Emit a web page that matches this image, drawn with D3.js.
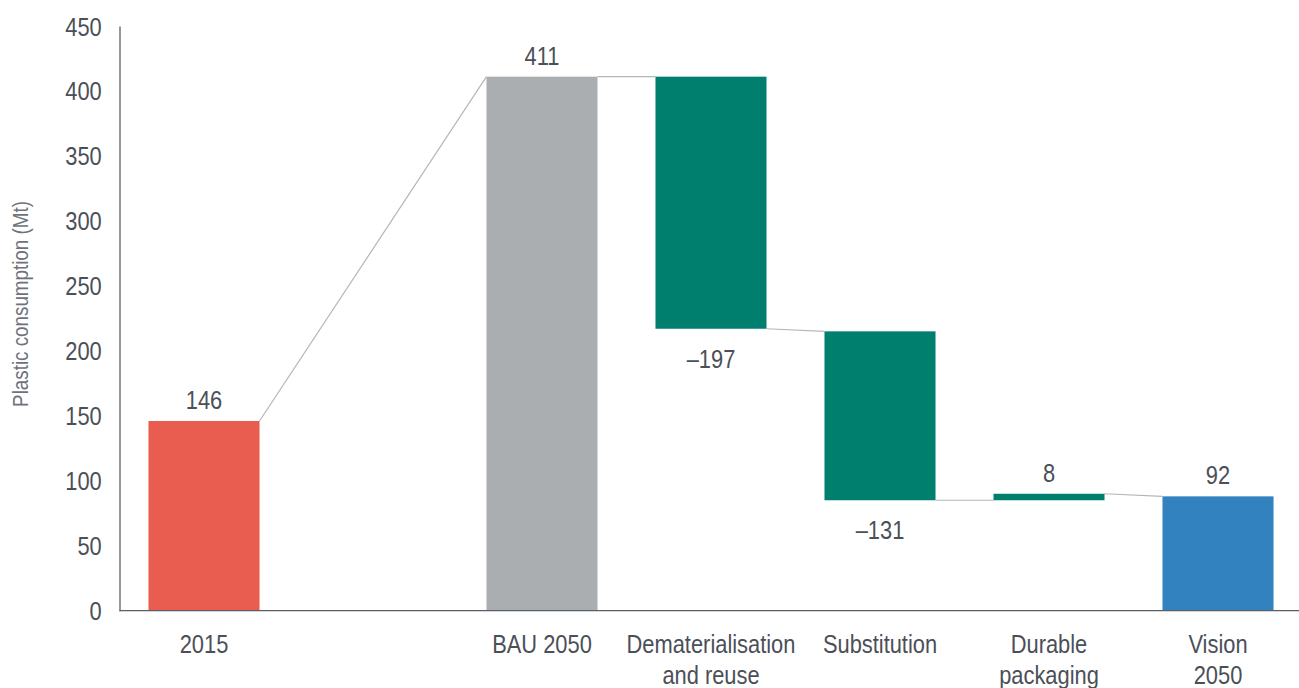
<!DOCTYPE html>
<html>
<head>
<meta charset="utf-8">
<script src="https://cdn.jsdelivr.net/npm/d3@7"></script>
<style>
  html, body { margin: 0; padding: 0; background: #fff; }
  svg { display: block; }
  text { font-family: "Liberation Sans", Arial, sans-serif; }
</style>
</head>
<body>
<svg id="chart" width="1299" height="688"></svg>
<script>
// ---- data ----
const categories = ["2015", "", "BAU 2050", "Dematerialisation and reuse", "Substitution", "Durable packaging", "Vision 2050"];
const categoryLines = [["2015"], [], ["BAU 2050"], ["Dematerialisation", "and reuse"], ["Substitution"], ["Durable", "packaging"], ["Vision", "2050"]];
const barCategories = ["2015", "BAU 2050", "Dematerialisation and reuse", "Substitution", "Durable packaging", "Vision 2050"];
const barLow  = [0,   0,   217, 85,  85, 0];
const barHigh = [146, 411, 411, 215, 90, 88];
const barType = ["total", "total", "down", "down", "up", "total"];
const barLabels = ["146", "411", "\u2013197", "\u2013131", "8", "92"];
const barColors = ["#e85d4f", "#aaaeb1", "#007f6e", "#007f6e", "#007f6e", "#3182bf"];
const yTicks = [0, 50, 100, 150, 200, 250, 300, 350, 400, 450];
const yTitle = "Plastic consumption (Mt)";

// ---- layout ----
const svg = d3.select("#chart");
const x = d3.scaleBand().domain(categories).range([119.5, 1302.5]).paddingInner(0.343).paddingOuter(0.1715);
const y = d3.scaleLinear().domain([0, 450]).range([610.7, 26]);
const textColor = "#4b4f57";
const fs = 25;
const sx = 0.875; // horizontal condensing to mimic a condensed face

// helper: condensed text at (px, py)
function ctext(g, px, py, str, anchor, size, color) {
  return g.append("text")
    .attr("transform", `translate(${px},${py}) scale(${sx},1)`)
    .attr("text-anchor", anchor)
    .attr("font-size", size)
    .attr("fill", color)
    .text(str);
}

const bars = barCategories.map((c, i) => ({
  cat: c, low: barLow[i], high: barHigh[i], type: barType[i], label: barLabels[i], color: barColors[i]
}));

// connectors
const conns = [];
for (let i = 0; i < bars.length - 1; i++) {
  const a = bars[i], b = bars[i + 1];
  const fromV = a.type === "down" ? a.low : a.high;
  const toV = b.type === "up" ? b.low : b.high;
  conns.push({x1: x(a.cat) + x.bandwidth(), y1: y(fromV), x2: x(b.cat), y2: y(toV)});
}
svg.append("g").selectAll("line").data(conns).join("line")
  .attr("x1", d => d.x1).attr("y1", d => d.y1)
  .attr("x2", d => d.x2).attr("y2", d => d.y2)
  .attr("stroke", "#b4b6b8").attr("stroke-width", 1.2);

// bars
svg.append("g").selectAll("rect").data(bars).join("rect")
  .attr("x", d => x(d.cat))
  .attr("width", x.bandwidth())
  .attr("y", d => y(d.high))
  .attr("height", d => y(d.low) - y(d.high))
  .attr("fill", d => d.color);

// value labels
const vg = svg.append("g");
bars.forEach(d => {
  const py = d.type === "down" ? y(d.low) + 39 : y(d.high) - 12;
  ctext(vg, x(d.cat) + x.bandwidth() / 2, py, d.label, "middle", fs, textColor);
});

// y axis
const yAxis = d3.axisLeft(y).tickValues(yTicks).tickSize(0).tickPadding(18);
const gy = svg.append("g").attr("transform", "translate(119.5,0)").call(yAxis);
gy.select(".domain").attr("stroke", "#5a5e66").attr("stroke-width", 1.3);
gy.selectAll(".tick text")
  .attr("font-size", fs).attr("fill", textColor)
  .attr("font-family", null)
  .attr("x", null).attr("dy", null)
  .attr("transform", `translate(-17.8,9) scale(${sx},1)`);

// x axis
const xAxis = d3.axisBottom(x).tickSize(0).tickFormat(() => "");
const gx = svg.append("g").attr("transform", "translate(0,610.7)").call(xAxis);
gx.select(".domain").attr("stroke", "#5a5e66").attr("stroke-width", 1.3)
  .attr("d", "M119.5,0H1299");

const catG = svg.append("g");
categories.forEach((c, i) => {
  categoryLines[i].forEach((ln, j) => {
    ctext(catG, x(c) + x.bandwidth() / 2, 653 + j * 31, ln, "middle", fs, textColor);
  });
});

// y title
svg.append("text")
  .attr("transform", `translate(28,304) rotate(-90) scale(${sx},1)`)
  .attr("text-anchor", "middle")
  .attr("font-size", 21.5)
  .attr("fill", "#6e727a")
  .text(yTitle);
</script>
</body>
</html>
